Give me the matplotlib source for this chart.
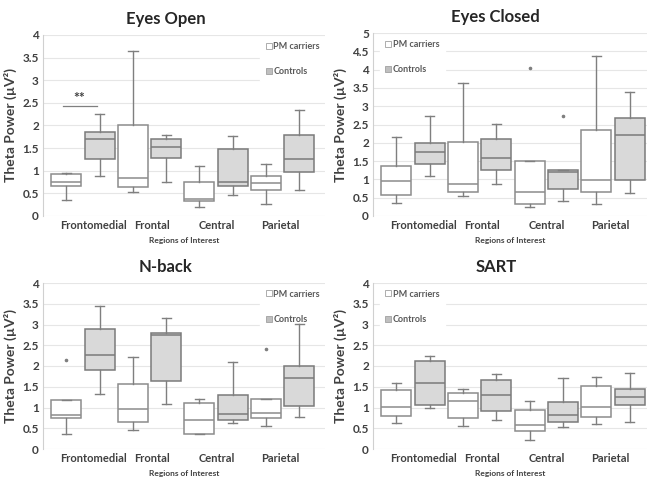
import matplotlib
matplotlib.use("Agg")
import matplotlib.pyplot as plt
from matplotlib.lines import Line2D

plt.rcParams['font.family'] = ['Lato', 'DejaVu Sans']

regions = ["Frontomedial", "Frontal", "Central", "Parietal"]
groups = ["PM carriers", "Controls"]
yticks_4 = ["0", "0.5", "1", "1.5", "2", "2.5", "3", "3.5", "4"]
yticks_5 = ["0", "0.5", "1", "1.5", "2", "2.5", "3", "3.5", "4", "4.5", "5"]

# (whisker low, Q1, median, Q3, whisker high) per region
eyes_open_pm = [(0.36, 0.66, 0.76, 0.92, 0.96), (0.52, 0.63, 0.85, 2.02, 3.64),
                (0.20, 0.34, 0.37, 0.75, 1.11), (0.27, 0.58, 0.74, 0.88, 1.16)]
eyes_open_ctrl = [(0.88, 1.25, 1.70, 1.85, 2.25), (0.75, 1.29, 1.52, 1.71, 1.79),
                  (0.47, 0.67, 0.75, 1.47, 1.77), (0.57, 0.97, 1.26, 1.79, 2.34)]
eyes_closed_pm = [(0.36, 0.58, 0.95, 1.37, 2.15), (0.56, 0.66, 0.87, 2.02, 3.63),
                  (0.24, 0.34, 0.65, 1.51, 1.51), (0.33, 0.65, 0.97, 2.34, 4.36)]
eyes_closed_ctrl = [(1.08, 1.43, 1.74, 2.00, 2.73), (0.88, 1.26, 1.58, 2.11, 2.52),
                    (0.42, 0.75, 1.19, 1.25, 1.25), (0.63, 0.98, 2.20, 2.67, 3.40)]
nback_pm = [(0.35, 0.75, 0.82, 1.19, 1.19), (0.45, 0.66, 0.96, 1.57, 2.22),
            (0.35, 0.36, 0.71, 1.10, 1.20), (0.55, 0.74, 0.87, 1.21, 1.21)]
nback_ctrl = [(1.33, 1.90, 2.26, 2.90, 3.44), (1.08, 1.64, 2.75, 2.80, 3.15),
              (0.62, 0.69, 0.84, 1.29, 2.10), (0.76, 1.04, 1.70, 2.00, 3.01)]
sart_pm = [(0.63, 0.79, 1.01, 1.41, 1.60), (0.56, 0.74, 1.16, 1.35, 1.44),
           (0.21, 0.43, 0.59, 0.95, 1.16), (0.61, 0.76, 1.01, 1.53, 1.73)]
sart_ctrl = [(1.00, 1.06, 1.58, 2.11, 2.23), (0.70, 0.91, 1.29, 1.66, 1.81),
             (0.53, 0.64, 0.82, 1.13, 1.70), (0.66, 1.06, 1.26, 1.45, 1.82)]

# outliers: (region index, group index, value)
eyes_closed_outliers = [(2, 0, 4.04), (2, 1, 2.72)]
nback_outliers = [(0, 0, 2.15), (3, 0, 2.41)]

panels = [
    dict(title="Eyes Open", pm=eyes_open_pm, ctrl=eyes_open_ctrl, outl=[],
         ymax=4, ylabels=yticks_4, rect=[43, 35, 325, 216], tx=0.436, legend="right"),
    dict(title="Eyes Closed", pm=eyes_closed_pm, ctrl=eyes_closed_ctrl, outl=eyes_closed_outliers,
         ymax=5, ylabels=yticks_5, rect=[373, 33, 647, 216], tx=0.445, legend="left"),
    dict(title="N-back", pm=nback_pm, ctrl=nback_ctrl, outl=nback_outliers,
         ymax=4, ylabels=yticks_4, rect=[43, 283, 325, 449], tx=0.436, legend="right"),
    dict(title="SART", pm=sart_pm, ctrl=sart_ctrl, outl=[],
         ymax=4, ylabels=yticks_4, rect=[373, 283, 647, 449], tx=0.449, legend="left"),
]

W, H = 647, 483
fig = plt.figure(figsize=(W / 100, H / 100), dpi=100)

pm_face, ctrl_face = "white", "#d9d9d9"
pm_edge, ctrl_edge = "#8c8c8c", "#7a7a7a"
txt = "#404040"
tick_pos = [0.81, 2.57, 4.52, 6.42]

def stats(t):
    lo, q1, med, q3, hi = t
    return dict(whislo=lo, q1=q1, med=med, q3=q3, whishi=hi, fliers=[])

for i, p in enumerate(panels):
    l, t, r, b = p["rect"]
    ax = fig.add_axes([l / W, 1 - b / H, (r - l) / W, (b - t) / H])
    ax.set_ylim(0, p["ymax"])
    n_yt = len(p["ylabels"])
    ax.set_yticks([k * 0.5 for k in range(n_yt)])
    ax.set_yticklabels(p["ylabels"], fontsize=8.5, fontweight="bold", color=txt)
    ax.grid(axis="y", color="#e6e6e6", lw=0.8)
    ax.set_axisbelow(True)
    for s in ["top", "right", "bottom"]:
        ax.spines[s].set_visible(False)
    ax.spines["left"].set_color("#d0d0d0")
    ax.tick_params(length=0, pad=3)

    for g, (data, face, edge) in enumerate([(p["pm"], pm_face, pm_edge),
                                             (p["ctrl"], ctrl_face, ctrl_edge)]):
        pos = [2 * k + g for k in range(len(data))]
        ax.bxp([stats(d) for d in data], positions=pos, widths=0.9, patch_artist=True,
               showfliers=False, capwidths=0.28,
               boxprops=dict(facecolor=face, edgecolor=edge, lw=1.1, zorder=3),
               medianprops=dict(color=edge, lw=1.1, zorder=4),
               whiskerprops=dict(color="#7f7f7f", lw=1.0, zorder=3),
               capprops=dict(color="#7f7f7f", lw=1.0, zorder=3))
    for (ri, gi, v) in p["outl"]:
        ax.plot(2 * ri + gi, v, marker="o", ms=1.6, color="#7f7f7f", ls="none", zorder=3)

    ax.set_xlim(-0.70, 7.77 if p["rect"][0] < 300 else 7.52)
    ax.set_xticks(tick_pos)
    ax.set_xticklabels(regions, fontsize=8, fontweight="bold", color=txt)
    ax.set_xlabel("Regions of Interest", fontsize=6, fontweight="bold", color=txt, labelpad=4)
    ax.set_ylabel("Theta Power (µV²)", fontsize=10, fontweight="bold", color=txt, labelpad=4)
    ax.set_title(p["title"], x=p["tx"], fontsize=12, fontweight="bold", color="#262626", pad=8)

    handles = [Line2D([], [], marker="s", ls="none", ms=5, markerfacecolor=pm_face,
                      markeredgecolor="#a0a0a0", markeredgewidth=0.6),
               Line2D([], [], marker="s", ls="none", ms=5, markerfacecolor="#bfbfbf",
                      markeredgecolor="#a0a0a0", markeredgewidth=0.6)]
    if p["legend"] == "right":
        anchor = (0.77, 0.99)
    else:
        anchor = (0.025, 0.99)
    leg = ax.legend(handles, groups, loc="upper left", bbox_to_anchor=anchor, frameon=True,
                    fontsize=6.5, labelspacing=1.8, handletextpad=0.1, handlelength=0.8,
                    borderpad=0.55, borderaxespad=0.0)
    leg.set_zorder(1.5)
    leg.get_frame().set_facecolor("white")
    leg.get_frame().set_edgecolor("white")
    leg.get_frame().set_alpha(1)
    leg.get_frame().set_boxstyle("square", pad=0)
    for tx_ in leg.get_texts():
        tx_.set_color("#595959")
        tx_.set_fontweight("bold")

    if i == 0:
        ax.plot([-0.11, 0.92], [2.42, 2.42], color="#7f7f7f", lw=0.9)
        ax.text(0.38, 2.47, "**", ha="center", va="bottom", fontsize=10, fontweight="bold", color="#404040")

fig.savefig("out.png", dpi=100)
